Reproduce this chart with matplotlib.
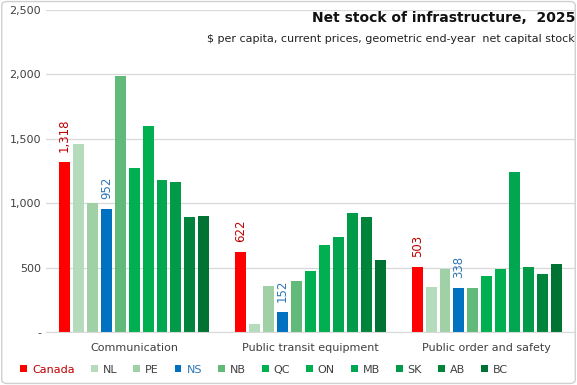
import matplotlib.pyplot as plt
import numpy as np
from matplotlib.patches import FancyBboxPatch

categories = ['Communication', 'Public transit equipment', 'Public order and safety']
regions = ['Canada', 'NL', 'PE', 'NS', 'NB', 'QC', 'ON', 'MB', 'SK', 'AB', 'BC']

# $ per capita, one list per category, in region order
communication = [1318, 1460, 1000, 952, 1990, 1270, 1600, 1182, 1162, 889, 897]
transit = [622, 62, 355, 152, 394, 474, 672, 734, 927, 889, 556]
public_order = [503, 348, 487, 338, 340, 433, 487, 1244, 503, 448, 525]

colors = ['#FF0000', '#B4DCBC', '#A0D1A6', '#0070C0', '#62BA7A', '#00B050',
          '#00AF50', '#00A650', '#009A48', '#00843C', '#007234']
labelled = {'Canada': '#C00000', 'NS': '#2E75B6'}

values = np.array([communication, transit, public_order])

fig = plt.figure(figsize=(5.77, 3.85), dpi=100)
ax = fig.add_axes([0.0797, 0.1377, 0.9168, 0.8363])

slot = 0.079
width = 0.062
x = np.arange(len(categories))
for i, reg in enumerate(regions):
    pos = x + (i - 5) * slot
    ax.bar(pos, values[:, i], width=width, color=colors[i], label=reg, zorder=2)
    if reg in labelled:
        for px, v in zip(pos, values[:, i]):
            ax.text(px, v + 80, f'{v:,}', rotation=90, ha='center', va='bottom',
                    fontsize=8.5, color=labelled[reg])

ax.set_xlim(-0.5, 2.5)
ax.set_ylim(0, 2500)
ax.set_yticks([0, 500, 1000, 1500, 2000, 2500])
ax.set_yticklabels(['-', '500', '1,000', '1,500', '2,000', '2,500'])
ax.set_xticks(x)
ax.set_xticklabels(categories)
ax.tick_params(axis='both', length=0, labelsize=8, colors='#404040')
ax.tick_params(axis='x', pad=8)
ax.yaxis.grid(True, color='#D9D9D9', linewidth=0.9, zorder=0)
for s in ['top', 'right', 'left']:
    ax.spines[s].set_visible(False)
ax.spines['bottom'].set_color('#D9D9D9')

fig.text(0.9965, 0.953, 'Net stock of infrastructure,  2025', ha='right', va='center',
         fontsize=10, fontweight='bold', color='#111111')
fig.text(0.9965, 0.90, '$ per capita, current prices, geometric end-year  net capital stock',
         ha='right', va='center', fontsize=8, color='#222222')

leg = fig.legend(loc='center', bbox_to_anchor=(0.458, 0.04), ncol=11, frameon=False,
                 fontsize=8, handlelength=0.6, handleheight=0.6, columnspacing=1.45,
                 handletextpad=0.45)
for t in leg.get_texts():
    t.set_color(labelled.get(t.get_text(), '#404040'))

fig.patches.append(FancyBboxPatch((0.003, 0.004), 0.994, 0.992, boxstyle='round,pad=0,rounding_size=0.01',
                                  transform=fig.transFigure, fill=False, edgecolor='#D0D0D0', linewidth=1))

fig.savefig('out.png', dpi=100)
